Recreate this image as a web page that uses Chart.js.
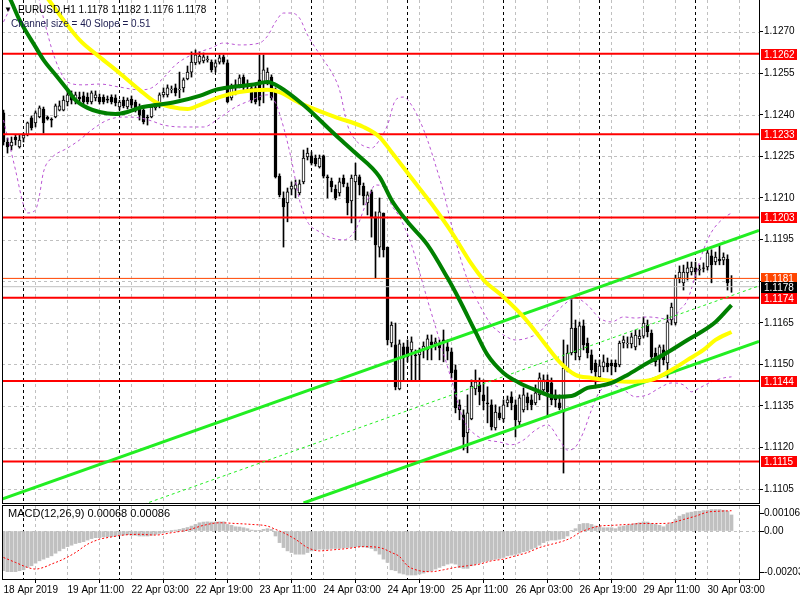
<!DOCTYPE html>
<html><head><meta charset="utf-8">
<script src="https://cdn.jsdelivr.net/npm/chart.js@4.4.0/dist/chart.umd.min.js"></script>
<style>
html,body{margin:0;padding:0;background:#fff;}
#wrap{position:relative;width:800px;height:600px;overflow:hidden;background:#fff}
#main{position:absolute;left:0;top:0}
#macd{position:absolute;left:0;top:505px}
</style></head><body>
<div id="wrap">
<canvas id="main" width="800" height="505"></canvas>
<canvas id="macd" width="800" height="95"></canvas>
</div>
<script>
// ---------- DATA ----------
const timeLabels = ['18 Apr 2019','19 Apr 11:00','22 Apr 03:00','22 Apr 19:00','23 Apr 11:00','24 Apr 03:00','24 Apr 19:00','25 Apr 11:00','26 Apr 03:00','26 Apr 19:00','29 Apr 11:00','30 Apr 03:00'];
const labelBars = [0,16,32,48,64,80,96,112,128,144,160,176];
const daySepBars = [5,29,53,77,101,125,149,173];
const priceTicks = [1.1270,1.1255,1.1240,1.1225,1.1210,1.1195,1.1180,1.1165,1.1150,1.1135,1.1120,1.1105];
const levels = [1.1262,1.1233,1.1203,1.1174,1.1144,1.1115];
const askPrice = 1.1181;
const bidPrice = 1.1178;

const openP = [1.12407,1.12302,1.12288,1.12320,1.12284,1.12316,1.12327,1.12389,1.12371,1.12392,
1.12421,1.12392,1.12385,1.12392,1.12417,1.12417,1.12446,1.12472,1.12450,1.12464,
1.12468,1.12464,1.12446,1.12461,1.12464,1.12464,1.12457,1.12464,1.12461,1.12428,
1.12453,1.12428,1.12457,1.12446,1.12428,1.12417,1.12392,1.12392,1.12425,1.12435,
1.12472,1.12472,1.12490,1.12497,1.12490,1.12497,1.12529,1.12554,1.12587,1.12590,
1.12594,1.12598,1.12590,1.12572,1.12590,1.12609,1.12587,1.12461,1.12508,1.12508,
1.12536,1.12508,1.12497,1.12497,1.12526,1.12515,1.12518,1.12536,1.12490,1.12179,
1.12100,1.12082,1.12132,1.12132,1.12118,1.12158,1.12248,1.12252,1.12244,1.12212,
1.12252,1.12176,1.12161,1.12132,1.12118,1.12172,1.12140,1.12089,1.12158,1.12176,
1.12143,1.12082,1.12122,1.12032,1.11923,1.12046,1.11923,1.11577,1.11570,1.11411,
1.11563,1.11563,1.11552,1.11534,1.11534,1.11556,1.11552,1.11581,1.11574,1.11570,
1.11588,1.11563,1.11545,1.11480,1.11354,1.11318,1.11253,1.11303,1.11411,1.11426,
1.11390,1.11361,1.11354,1.11271,1.11325,1.11303,1.11361,1.11383,1.11354,1.11292,
1.11336,1.11383,1.11372,1.11361,1.11390,1.11408,1.11444,1.11433,1.11390,1.11361,
1.11328,1.11480,1.11541,1.11631,1.11527,1.11639,1.11577,1.11534,1.11505,1.11455,
1.11491,1.11505,1.11505,1.11505,1.11498,1.11577,1.11574,1.11574,1.11563,1.11592,
1.11602,1.11642,1.11613,1.11541,1.11519,1.11552,1.11505,1.11660,1.11649,1.11811,
1.11794,1.11830,1.11833,1.11848,1.11840,1.11848,1.11851,1.11891,1.11869,1.11880,
1.11876,1.11880,1.11780];
const highP = [1.12417,1.12316,1.12320,1.12327,1.12327,1.12334,1.12374,1.12396,1.12414,1.12432,
1.12428,1.12396,1.12389,1.12439,1.12450,1.12468,1.12490,1.12486,1.12482,1.12482,
1.12482,1.12479,1.12486,1.12486,1.12475,1.12472,1.12468,1.12472,1.12472,1.12453,
1.12464,1.12461,1.12468,1.12453,1.12439,1.12428,1.12399,1.12435,1.12443,1.12479,
1.12497,1.12508,1.12504,1.12511,1.12554,1.12533,1.12576,1.12627,1.12634,1.12627,
1.12623,1.12612,1.12598,1.12598,1.12616,1.12616,1.12598,1.12511,1.12526,1.12544,
1.12544,1.12526,1.12511,1.12508,1.12616,1.12616,1.12569,1.12544,1.12497,1.12187,
1.12122,1.12136,1.12158,1.12165,1.12165,1.12273,1.12280,1.12266,1.12255,1.12255,
1.12255,1.12183,1.12172,1.12147,1.12172,1.12183,1.12154,1.12183,1.12226,1.12183,
1.12154,1.12122,1.12129,1.12050,1.12100,1.12046,1.11923,1.11653,1.11649,1.11588,
1.11577,1.11588,1.11599,1.11552,1.11559,1.11581,1.11606,1.11606,1.11595,1.11588,
1.11624,1.11588,1.11559,1.11498,1.11372,1.11336,1.11390,1.11444,1.11480,1.11451,
1.11444,1.11419,1.11372,1.11354,1.11347,1.11372,1.11386,1.11401,1.11372,1.11390,
1.11415,1.11397,1.11390,1.11426,1.11469,1.11462,1.11462,1.11451,1.11408,1.11390,
1.11588,1.11570,1.11743,1.11660,1.11653,1.11660,1.11595,1.11552,1.11516,1.11516,
1.11534,1.11523,1.11516,1.11516,1.11584,1.11602,1.11599,1.11613,1.11624,1.11624,
1.11671,1.11660,1.11624,1.11559,1.11570,1.11570,1.11678,1.11721,1.11822,1.11855,
1.11858,1.11869,1.11869,1.11869,1.11858,1.11866,1.11913,1.11913,1.11905,1.11931,
1.11902,1.11895,1.11820];
const lowP = [1.12291,1.12262,1.12273,1.12291,1.12280,1.12302,1.12324,1.12345,1.12356,1.12389,
1.12334,1.12381,1.12356,1.12389,1.12414,1.12414,1.12432,1.12439,1.12439,1.12443,
1.12439,1.12439,1.12439,1.12450,1.12439,1.12439,1.12443,1.12439,1.12432,1.12417,
1.12425,1.12421,1.12425,1.12410,1.12381,1.12367,1.12363,1.12389,1.12417,1.12425,
1.12464,1.12464,1.12479,1.12468,1.12461,1.12482,1.12526,1.12536,1.12580,1.12583,
1.12587,1.12590,1.12554,1.12554,1.12583,1.12583,1.12443,1.12453,1.12472,1.12497,
1.12490,1.12482,1.12443,1.12439,1.12432,1.12443,1.12508,1.12453,1.12172,1.12104,
1.11923,1.12014,1.12111,1.12100,1.12111,1.12151,1.12237,1.12219,1.12215,1.12208,
1.12172,1.12100,1.12122,1.12093,1.12107,1.12140,1.12039,1.12010,1.11949,1.12111,
1.12075,1.12039,1.11959,1.11812,1.11887,1.11887,1.11570,1.11563,1.11408,1.11408,
1.11444,1.11509,1.11444,1.11444,1.11444,1.11523,1.11516,1.11516,1.11552,1.11516,
1.11509,1.11516,1.11451,1.11325,1.11300,1.11191,1.11181,1.11300,1.11390,1.11354,
1.11336,1.11289,1.11263,1.11263,1.11300,1.11292,1.11347,1.11336,1.11238,1.11282,
1.11328,1.11336,1.11336,1.11354,1.11372,1.11390,1.11310,1.11354,1.11346,1.11336,
1.11108,1.11473,1.11534,1.11516,1.11516,1.11552,1.11523,1.11469,1.11415,1.11444,
1.11473,1.11473,1.11462,1.11473,1.11491,1.11559,1.11559,1.11559,1.11552,1.11570,
1.11595,1.11599,1.11516,1.11494,1.11473,1.11498,1.11451,1.11642,1.11642,1.11794,
1.11768,1.11804,1.11822,1.11804,1.11822,1.11833,1.11840,1.11794,1.11859,1.11859,
1.11859,1.11768,1.11760];
const closeP = [1.12302,1.12284,1.12302,1.12309,1.12309,1.12327,1.12371,1.12353,1.12407,1.12425,
1.12371,1.12385,1.12381,1.12432,1.12432,1.12453,1.12472,1.12453,1.12472,1.12457,
1.12446,1.12446,1.12479,1.12472,1.12446,1.12446,1.12453,1.12446,1.12443,1.12446,
1.12432,1.12453,1.12435,1.12417,1.12399,1.12374,1.12389,1.12428,1.12432,1.12472,
1.12482,1.12497,1.12493,1.12479,1.12493,1.12526,1.12554,1.12590,1.12616,1.12612,
1.12609,1.12601,1.12562,1.12587,1.12605,1.12590,1.12446,1.12500,1.12497,1.12533,
1.12500,1.12504,1.12453,1.12446,1.12453,1.12562,1.12554,1.12461,1.12176,1.12111,
1.12068,1.12122,1.12143,1.12147,1.12151,1.12244,1.12262,1.12226,1.12223,1.12244,
1.12179,1.12172,1.12140,1.12100,1.12158,1.12151,1.12082,1.12172,1.12183,1.12147,
1.12107,1.12111,1.12032,1.11931,1.12050,1.11913,1.11588,1.11642,1.11419,1.11574,
1.11523,1.11527,1.11581,1.11530,1.11545,1.11566,1.11592,1.11570,1.11581,1.11559,
1.11581,1.11548,1.11469,1.11343,1.11336,1.11238,1.11325,1.11422,1.11437,1.11401,
1.11368,1.11357,1.11274,1.11328,1.11307,1.11354,1.11372,1.11361,1.11300,1.11379,
1.11390,1.11361,1.11354,1.11397,1.11451,1.11444,1.11401,1.11372,1.11372,1.11343,
1.11487,1.11541,1.11631,1.11541,1.11639,1.11570,1.11541,1.11480,1.11473,1.11495,
1.11509,1.11491,1.11494,1.11491,1.11577,1.11588,1.11577,1.11599,1.11606,1.11602,
1.11649,1.11617,1.11527,1.11509,1.11563,1.11516,1.11653,1.11707,1.11811,1.11833,
1.11833,1.11848,1.11851,1.11833,1.11844,1.11846,1.11902,1.11859,1.11887,1.11873,
1.11887,1.11794,1.11780];

const greenMaBars = [0,2,4,8,10,13,16,18,21,24,28,31,34,38,43,49,53,57,62,66,69,75,83,88,94,97,101,106,111,114,118,121,125,129,133,138,142,146,149,152,156,161,164,167,171,174,178,182];
const greenMaVals = [1.12870,1.12807,1.12742,1.12645,1.12598,1.12544,1.12490,1.12453,1.12425,1.12410,1.12403,1.12410,1.12425,1.12435,1.12446,1.12468,1.12490,1.12500,1.12508,1.12518,1.12500,1.12435,1.12327,1.12262,1.12176,1.12093,1.12014,1.11931,1.11812,1.11732,1.11617,1.11534,1.11469,1.11433,1.11408,1.11383,1.11386,1.11415,1.11422,1.11433,1.11462,1.11505,1.11527,1.11552,1.11588,1.11613,1.11653,1.11714];
const yellowMaBars = [10,19,24,29,34,38,42,46,49,54,59,66,69,74,83,90,94,97,102,107,112,117,120,125,130,135,139,143,147,150,156,162,167,171,175,178,182];
const yellowMaVals = [1.12840,1.12670,1.12609,1.12551,1.12490,1.12446,1.12428,1.12421,1.12435,1.12464,1.12482,1.12490,1.12482,1.12443,1.12392,1.12356,1.12320,1.12266,1.12172,1.12079,1.11977,1.11862,1.11805,1.11743,1.11671,1.11581,1.11509,1.11462,1.11451,1.11444,1.11437,1.11444,1.11480,1.11516,1.11552,1.11588,1.11617];

const bandUpBars = [0,2,4,8,10,12,14,16,20,24,29,34,37,40,43,47,52,55,59,64,66,68,70,72,74,76,78,80,82,84,86,88,90,92,94,96,98,100,102,104,106,108,110,112,114,116,119,122,125,128,131,134,137,140,143,146,149,152,155,158,161,164,167,169,171,173,175,177,180,182];
const bandUpVals = [1.12735,1.12796,1.12868,1.12850,1.12749,1.12641,1.12562,1.12518,1.12508,1.12511,1.12500,1.12490,1.12497,1.12533,1.12580,1.12616,1.12641,1.12659,1.12652,1.12659,1.12684,1.12735,1.12767,1.12767,1.12749,1.12688,1.12641,1.12598,1.12554,1.12490,1.12363,1.12309,1.12288,1.12280,1.12309,1.12363,1.12453,1.12464,1.12435,1.12381,1.12309,1.12219,1.12122,1.12003,1.11895,1.11805,1.11714,1.11642,1.11606,1.11588,1.11595,1.11617,1.11667,1.11714,1.11739,1.11714,1.11667,1.11653,1.11671,1.11667,1.11671,1.11667,1.11660,1.11696,1.11732,1.11822,1.11913,1.11977,1.12027,1.12046];
const bandLoBars = [0,3,5,6,8,9,10,12,16,19,22,26,30,34,37,40,45,50,54,58,62,66,68,70,72,74,76,79,82,85,88,91,93,95,97,99,102,104,106,109,112,115,118,121,124,127,130,133,136,139,141,143,145,147,149,152,155,158,161,164,167,170,172,174,177,180,182];
const bandLoVals = [1.12381,1.12201,1.12075,1.12046,1.12057,1.12111,1.12194,1.12244,1.12280,1.12309,1.12345,1.12381,1.12392,1.12389,1.12378,1.12363,1.12356,1.12356,1.12389,1.12428,1.12453,1.12472,1.12443,1.12356,1.12237,1.12093,1.12014,1.11978,1.11956,1.11949,1.11985,1.12093,1.12147,1.12140,1.12075,1.12032,1.11931,1.11833,1.11732,1.11588,1.11444,1.11300,1.11246,1.11227,1.11220,1.11210,1.11227,1.11263,1.11282,1.11227,1.11191,1.11202,1.11256,1.11336,1.11401,1.11426,1.11408,1.11383,1.11390,1.11415,1.11433,1.11426,1.11401,1.11415,1.11437,1.11451,1.11455];

// regression channel: [startBar, endBar] and prices at those bars
const chanUpperBars = [-0.375,188.875], chanUpperVals = [1.11014,1.11983];
const chanMiddleBars = [35,188.875],   chanMiddleVals = [1.10995,1.11783];
const chanLowerBars = [75,188.875],    chanLowerVals = [1.11000,1.11583];

const macdHist = [-0.00168,-0.00172,-0.00172,-0.00172,-0.00168,-0.00164,-0.00154,-0.00147,-0.00136,-0.00126,
-0.00119,-0.00112,-0.00105,-0.00094,-0.00084,-0.00074,-0.00066,-0.00060,-0.00053,-0.00049,
-0.00045,-0.00038,-0.00032,-0.00028,-0.00028,-0.00025,-0.00024,-0.00024,-0.00021,-0.00018,
-0.00017,-0.00015,-0.00018,-0.00018,-0.00021,-0.00021,-0.00021,-0.00018,-0.00014,-0.00010,
-0.00007,-0.00004,0.00001,0.00004,0.00007,0.00011,0.00015,0.00021,0.00028,0.00035,
0.00038,0.00039,0.00038,0.00038,0.00039,0.00039,0.00028,0.00024,0.00018,0.00017,
0.00014,0.00010,0.00004,0.00001,0.00003,0.00007,0.00010,0.00007,-0.00021,-0.00049,
-0.00070,-0.00084,-0.00091,-0.00098,-0.00098,-0.00098,-0.00091,-0.00084,-0.00080,-0.00077,
-0.00077,-0.00077,-0.00074,-0.00074,-0.00073,-0.00071,-0.00070,-0.00069,-0.00066,-0.00066,
-0.00067,-0.00070,-0.00074,-0.00084,-0.00098,-0.00119,-0.00133,-0.00164,-0.00168,-0.00178,
-0.00182,-0.00186,-0.00186,-0.00186,-0.00182,-0.00178,-0.00172,-0.00168,-0.00161,-0.00154,
-0.00147,-0.00140,-0.00136,-0.00140,-0.00154,-0.00158,-0.00158,-0.00147,-0.00140,-0.00136,
-0.00130,-0.00126,-0.00122,-0.00119,-0.00116,-0.00112,-0.00105,-0.00102,-0.00098,-0.00094,
-0.00088,-0.00084,-0.00077,-0.00070,-0.00060,-0.00049,-0.00042,-0.00038,-0.00038,-0.00035,
-0.00032,-0.00021,0.00001,0.00010,0.00028,0.00032,0.00032,0.00028,0.00021,0.00018,
0.00014,0.00014,0.00014,0.00010,0.00018,0.00021,0.00024,0.00028,0.00032,0.00035,
0.00039,0.00038,0.00032,0.00028,0.00024,0.00018,0.00028,0.00035,0.00049,0.00063,
0.00070,0.00077,0.00080,0.00083,0.00084,0.00087,0.00088,0.00091,0.00091,0.00091,
0.00088,0.00084,0.00068];
const signalBars = [0,3,6,8,10,12,15,18,21,24,27,30,34,38,42,46,50,54,58,62,66,68,70,73,76,79,82,86,90,94,97,99,101,104,107,110,113,116,119,122,125,128,131,134,137,140,142,144,146,149,152,156,160,164,167,170,173,176,179,182];
const signalVals = [-0.00112,-0.00133,-0.00154,-0.00161,-0.00154,-0.00140,-0.00119,-0.00091,-0.00056,-0.00035,-0.00025,-0.00017,-0.00014,-0.00017,-0.00007,0.00004,0.00024,0.00035,0.00032,0.00028,0.00021,0.00007,-0.00007,-0.00035,-0.00070,-0.00084,-0.00080,-0.00074,-0.00066,-0.00070,-0.00091,-0.00108,-0.00147,-0.00168,-0.00172,-0.00164,-0.00154,-0.00147,-0.00140,-0.00126,-0.00119,-0.00105,-0.00091,-0.00070,-0.00056,-0.00042,-0.00028,-0.00007,0.00007,0.00021,0.00024,0.00028,0.00032,0.00032,0.00035,0.00049,0.00063,0.00080,0.00084,0.00086];
const macdTicks = [0.00106,0,-0.00203];

// ---------- RENDERING ----------
const X_MIN = -0.375, X_MAX = 188.875;
const FONT = '"Liberation Sans", Arial, sans-serif';
const gridBars = [];
for (let b = 8; b <= 184; b += 8) gridBars.push(b);
const pts = (xs, ys) => xs.map((x, k) => ({x: x, y: ys[k]}));
const noPad = s => { s.paddingTop = 0; s.paddingBottom = 0; s.paddingLeft = 0; s.paddingRight = 0; };

function drawGrid(chart, hVals) {
  const {ctx, chartArea: a, scales: {x, y}} = chart;
  ctx.save();
  ctx.lineWidth = 1;
  ctx.setLineDash([3, 3]);
  ctx.strokeStyle = '#c0c0c0';
  ctx.beginPath();
  hVals.forEach(v => { const py = Math.round(y.getPixelForValue(v)) + 0.5; ctx.moveTo(a.left, py); ctx.lineTo(a.right, py); });
  gridBars.forEach(b => { const px = x.getPixelForValue(b); ctx.moveTo(px, a.top); ctx.lineTo(px, a.bottom); });
  ctx.stroke();
  ctx.strokeStyle = '#000';
  ctx.beginPath();
  daySepBars.forEach(b => { const px = x.getPixelForValue(b); ctx.moveTo(px, a.top); ctx.lineTo(px, a.bottom); });
  ctx.stroke();
  ctx.restore();
}
function drawFrame(chart, withTop) {
  const {ctx, chartArea: a} = chart;
  ctx.save();
  ctx.strokeStyle = '#000'; ctx.lineWidth = 1; ctx.setLineDash([]);
  ctx.beginPath();
  ctx.moveTo(a.left + 0.5, a.top); ctx.lineTo(a.left + 0.5, a.bottom + 1);
  ctx.moveTo(a.right + 0.5, a.top); ctx.lineTo(a.right + 0.5, a.bottom + 1);
  ctx.moveTo(a.left, a.bottom + 0.5); ctx.lineTo(a.right + 1, a.bottom + 0.5);
  if (withTop) { ctx.moveTo(a.left, a.top - 0.5); ctx.lineTo(a.right + 1, a.top - 0.5); }
  ctx.stroke();
  ctx.restore();
}
function priceBox(ctx, y, v, bg, fg) {
  const py = Math.round(y.getPixelForValue(v));
  ctx.fillStyle = bg;
  ctx.fillRect(761, py - 5, 36, 11);
  ctx.fillStyle = fg;
  ctx.textAlign = 'left'; ctx.textBaseline = 'middle';
  ctx.fillText(v.toFixed(4), 764, py + 1);
}

const mainPlugin = {
  id: 'mainOverlay',
  beforeDatasetsDraw(chart) { drawGrid(chart, priceTicks); },
  afterDraw(chart) {
    const {ctx, scales: {y}} = chart;
    drawFrame(chart, false);
    ctx.save();
    ctx.font = '10px ' + FONT;
    levels.forEach(v => priceBox(ctx, y, v, '#ff0000', '#ffffff'));
    priceBox(ctx, y, askPrice, '#ff4500', '#ffffff');
    priceBox(ctx, y, bidPrice, '#000000', '#ffffff');
    // header texts
    ctx.fillStyle = '#000';
    ctx.textBaseline = 'middle';
    ctx.font = '8px ' + FONT;
    ctx.fillText('\u25BC', 4, 10);
    ctx.font = '10px ' + FONT;
    ctx.fillText('EURUSD,H1 1.1178 1.1182 1.1176 1.1178', 18, 10);
    ctx.fillStyle = '#1c1c50';
    ctx.fillText('Channel size = 40 Slope = 0.51', 11, 24);
    ctx.restore();
  }
};

const bodyColors = closeP.map((c, i) => c >= openP[i] ? '#ffffff' : '#000000');

new Chart(document.getElementById('main'), {
  type: 'bar',
  data: {
    datasets: [
      {type: 'line', data: pts(greenMaBars, greenMaVals), borderColor: '#008000', borderWidth: 4, pointRadius: 0, cubicInterpolationMode: 'monotone', order: 1},
      {type: 'line', data: pts(yellowMaBars, yellowMaVals), borderColor: '#ffff00', borderWidth: 4, pointRadius: 0, cubicInterpolationMode: 'monotone', order: 1},
      {type: 'line', data: pts(chanUpperBars, chanUpperVals), borderColor: '#22ee22', borderWidth: 3, pointRadius: 0, order: 2},
      {type: 'line', data: pts(chanLowerBars, chanLowerVals), borderColor: '#22ee22', borderWidth: 3, pointRadius: 0, order: 2},
      {type: 'line', data: pts(chanMiddleBars, chanMiddleVals), borderColor: '#22ee22', borderWidth: 1, borderDash: [3, 3], pointRadius: 0, order: 2},
      ...levels.map(v => ({type: 'line', data: [{x: X_MIN, y: v}, {x: X_MAX, y: v}], borderColor: '#ff0000', borderWidth: 2, pointRadius: 0, order: 3})),
      {type: 'line', data: [{x: X_MIN, y: askPrice}, {x: X_MAX, y: askPrice}], borderColor: '#ff4500', borderWidth: 1, pointRadius: 0, order: 3},
      {type: 'line', data: [{x: X_MIN, y: bidPrice}, {x: X_MAX, y: bidPrice}], borderColor: '#c0c0c0', borderWidth: 1, pointRadius: 0, order: 3},
      {type: 'line', data: pts(bandUpBars, bandUpVals), borderColor: '#ba55d3', borderWidth: 1, borderDash: [3, 3], pointRadius: 0, cubicInterpolationMode: 'monotone', order: 4},
      {type: 'line', data: pts(bandLoBars, bandLoVals), borderColor: '#ba55d3', borderWidth: 1, borderDash: [3, 3], pointRadius: 0, cubicInterpolationMode: 'monotone', order: 4},
      {type: 'bar', data: openP.map((o, i) => ({x: i, y: [o, closeP[i]]})), backgroundColor: bodyColors, borderColor: '#000', borderWidth: 1, borderSkipped: false, barThickness: 3, grouped: false, order: 5},
      {type: 'bar', data: lowP.map((l, i) => ({x: i, y: [l, highP[i]]})), backgroundColor: '#000', borderWidth: 0, barThickness: 1, grouped: false, order: 6}
    ]
  },
  options: {
    responsive: false, animation: false, devicePixelRatio: 1, events: [],
    layout: {padding: {left: 2, right: 0, top: 0, bottom: 2}},
    plugins: {legend: {display: false}, tooltip: {enabled: false}},
    scales: {
      x: {type: 'linear', min: X_MIN, max: X_MAX, display: false, offset: false},
      y: {
        position: 'right', min: 1.11000, max: 1.12814,
        afterFit(s) { s.width = 41; noPad(s); },
        afterBuildTicks(s) { s.ticks = priceTicks.map(v => ({value: v})); },
        ticks: {color: '#000', padding: 1, font: {family: FONT, size: 10}, callback: v => Math.abs(v - 1.118) < 1e-7 ? '' : v.toFixed(4)},
        grid: {drawOnChartArea: false, drawTicks: true, tickLength: 4, color: '#000'},
        border: {display: false}
      }
    }
  },
  plugins: [mainPlugin]
});

const macdPlugin = {
  id: 'macdOverlay',
  beforeDatasetsDraw(chart) { drawGrid(chart, [0]); },
  afterDraw(chart) {
    const {ctx, scales: {y}, chartArea: a} = chart;
    drawFrame(chart, true);
    ctx.save();
    ctx.font = '10px ' + FONT;
    ctx.fillStyle = '#000'; ctx.strokeStyle = '#000'; ctx.lineWidth = 1;
    ctx.textAlign = 'left'; ctx.textBaseline = 'middle';
    const shifts = [7, 0, -7];
    macdTicks.forEach((v, k) => {
      const py = Math.round(y.getPixelForValue(v) + shifts[k]);
      ctx.beginPath(); ctx.moveTo(a.right + 1, py + 0.5); ctx.lineTo(a.right + 5, py + 0.5); ctx.stroke();
      ctx.fillText(v === 0 ? '0.00' : v.toFixed(5), 764, py + 0.5);
    });
    ctx.font = '11px ' + FONT;
    ctx.fillText('MACD(12,26,9) 0.00068 0.00086', 8, 9);
    ctx.restore();
  }
};

new Chart(document.getElementById('macd'), {
  type: 'bar',
  data: {
    datasets: [
      {type: 'line', data: pts(signalBars, signalVals), borderColor: '#ff0000', borderWidth: 1, borderDash: [2, 2], pointRadius: 0, cubicInterpolationMode: 'monotone', order: 1},
      {type: 'bar', data: macdHist.map((v, i) => ({x: i, y: v})), backgroundColor: '#c0c0c0', borderWidth: 0, barThickness: 3, grouped: false, order: 2}
    ]
  },
  options: {
    responsive: false, animation: false, devicePixelRatio: 1, events: [],
    layout: {padding: {left: 2, right: 0, top: 1, bottom: 0}},
    plugins: {legend: {display: false}, tooltip: {enabled: false}},
    scales: {
      x: {
        type: 'linear', min: X_MIN, max: X_MAX, offset: false, position: 'bottom',
        afterFit(s) { s.height = 21; noPad(s); },
        afterBuildTicks(s) { s.ticks = labelBars.map(v => ({value: v})); },
        ticks: {autoSkip: false, maxRotation: 0, minRotation: 0, align: 'start', padding: 1, color: '#000', font: {family: FONT, size: 10},
          callback: (v, i) => timeLabels[i]},
        grid: {drawOnChartArea: false, drawTicks: true, tickLength: 4, color: '#000'},
        border: {display: false}
      },
      y: {
        position: 'right', min: -0.00203, max: 0.00106,
        afterFit(s) { s.width = 41; noPad(s); },
        ticks: {display: false},
        grid: {drawOnChartArea: false, drawTicks: false},
        border: {display: false}
      }
    }
  },
  plugins: [macdPlugin]
});
</script>
</body></html>
